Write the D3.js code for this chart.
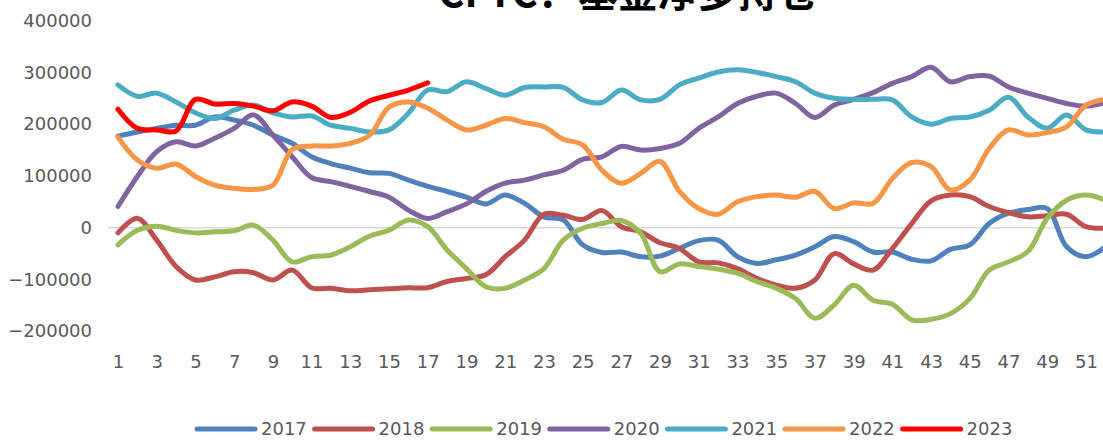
<!DOCTYPE html>
<html>
<head>
<meta charset="utf-8">
<script src="https://cdn.jsdelivr.net/npm/d3@7"></script>
<style>
  html, body { margin: 0; padding: 0; background: #ffffff; }
  svg { display: block; }
</style>
</head>
<body>
<svg id="chart" width="1103" height="441"></svg>
<script>
// ---- data ----
const weeks = d3.range(1, 53);
const xTickLabels = d3.range(1, 53, 2);
const yTicks = [-200000, -100000, 0, 100000, 200000, 300000, 400000];
const seriesNames = ["2017", "2018", "2019", "2020", "2021", "2022", "2023"];

const y2017 = [177,185,192,198,198,214,208,198,179,163,137,124,115,106,105,92,80,70,59,46,63,47,21,15,-33,-48,-47,-56,-55,-40,-25,-24,-56,-69,-62,-53,-37,-17,-27,-47,-47,-61,-64,-42,-33,8,28,35,37,-37,-56,-37];
const y2018 = [-10,18,-24,-75,-101,-95,-85,-87,-101,-82,-116,-117,-122,-120,-118,-116,-116,-104,-98,-91,-56,-24,26,24,16,33,2,-8,-29,-40,-66,-68,-79,-98,-111,-117,-101,-50,-70,-82,-40,8,52,63,60,41,29,21,23,26,2,-1];
const y2019 = [-33,-5,3,-5,-10,-8,-6,5,-24,-66,-56,-53,-37,-16,-5,15,2,-43,-79,-114,-117,-101,-79,-24,-1,8,14,-11,-85,-70,-75,-80,-88,-104,-117,-137,-175,-149,-111,-140,-148,-178,-177,-166,-137,-82,-66,-46,18,53,63,53];
const y2020 = [41,99,147,166,158,173,192,218,179,137,97,89,80,70,59,34,18,31,46,70,86,92,102,111,132,137,157,150,153,163,192,214,240,254,260,240,213,237,248,261,279,292,310,282,292,293,272,260,250,240,235,242];
const y2021 = [276,254,260,243,222,211,227,237,222,214,216,198,192,185,189,221,266,263,282,269,256,271,272,271,247,242,266,247,248,276,289,301,305,300,292,282,260,250,248,248,247,214,200,211,214,227,252,214,192,218,189,185];
const y2022 = [175,131,115,123,99,82,76,74,82,151,158,158,163,179,233,243,231,208,189,198,211,203,195,171,160,111,86,105,128,70,37,26,50,60,63,59,70,37,48,47,95,126,118,73,92,153,189,179,184,195,237,248];
const y2023 = [229,192,189,187,248,239,240,235,226,243,235,213,223,245,256,266,280];

const colors = ["#4F81BD", "#C0504D", "#9BBB59", "#8064A2", "#4BACC6", "#F79646", "#FF0000"];
const allValues = [y2017, y2018, y2019, y2020, y2021, y2022, y2023];

const series = seriesNames.map((name, i) => ({
  name,
  color: colors[i],
  values: allValues[i].map((v, j) => ({ week: weeks[j], value: v * 1000 }))
}));

// ---- layout ----
const svg = d3.select("#chart");
const W = 1103, H = 441;
svg.append("rect").attr("width", W).attr("height", H).attr("fill", "#ffffff");

const plotLeft = 108.3, plotRight = 1115;
const x = d3.scalePoint().domain(weeks).range([plotLeft, plotRight]).padding(0.5);
const y = d3.scaleLinear().domain([-200000, 400000]).range([331.2, 20.7]);

const labelFont = "'DejaVu Sans', sans-serif";

// zero axis line
svg.append("line")
  .attr("x1", plotLeft).attr("x2", plotRight)
  .attr("y1", y(0)).attr("y2", y(0))
  .attr("stroke", "#D9D9D9").attr("stroke-width", 1.5);

// y axis labels
const yAxis = d3.axisLeft(y).tickValues(yTicks).tickSize(0).tickPadding(0).tickFormat(d3.format("d"));
const gy = svg.append("g").attr("transform", "translate(92,0)").call(yAxis);
gy.select(".domain").remove();
gy.selectAll("text")
  .attr("font-family", labelFont).attr("font-size", 18).attr("fill", "#595959");

// x axis labels
const xAxis = d3.axisBottom(x).tickValues(xTickLabels).tickSize(0).tickPadding(0);
const gx = svg.append("g").attr("transform", "translate(0,355)").call(xAxis);
gx.select(".domain").remove();
gx.selectAll("text")
  .attr("font-family", labelFont).attr("font-size", 18).attr("fill", "#595959")
  .attr("dy", "0.71em");

// lines
const line = d3.line()
  .x(d => x(d.week))
  .y(d => y(d.value))
  .curve(d3.curveCatmullRom.alpha(0.5));

svg.append("g").selectAll("path")
  .data(series)
  .join("path")
  .attr("d", d => line(d.values))
  .attr("fill", "none")
  .attr("stroke", d => d.color)
  .attr("stroke-width", 5)
  .attr("stroke-linecap", "round")
  .attr("stroke-linejoin", "round");

// title (partially cut off at the top, as in the reference)
svg.append("text")
  .attr("x", 628).attr("y", 7)
  .attr("text-anchor", "middle")
  .attr("font-family", "'Noto Sans CJK SC', sans-serif")
  .attr("font-weight", "bold")
  .attr("font-size", 40)
  .attr("fill", "#000000")
  .text("CFTC：基金净多持仓");

// legend
const legend = svg.append("g");
const legendStart = 197, legendStep = 117.6, legendY = 429;
series.forEach((s, i) => {
  const lx = legendStart + i * legendStep;
  legend.append("line")
    .attr("x1", lx).attr("x2", lx + 58)
    .attr("y1", legendY).attr("y2", legendY)
    .attr("stroke", s.color).attr("stroke-width", 5)
    .attr("stroke-linecap", "round");
  legend.append("text")
    .attr("x", lx + 64).attr("y", legendY)
    .attr("dy", "0.36em")
    .attr("font-family", labelFont).attr("font-size", 18).attr("fill", "#595959")
    .text(s.name);
});
</script>
</body>
</html>
